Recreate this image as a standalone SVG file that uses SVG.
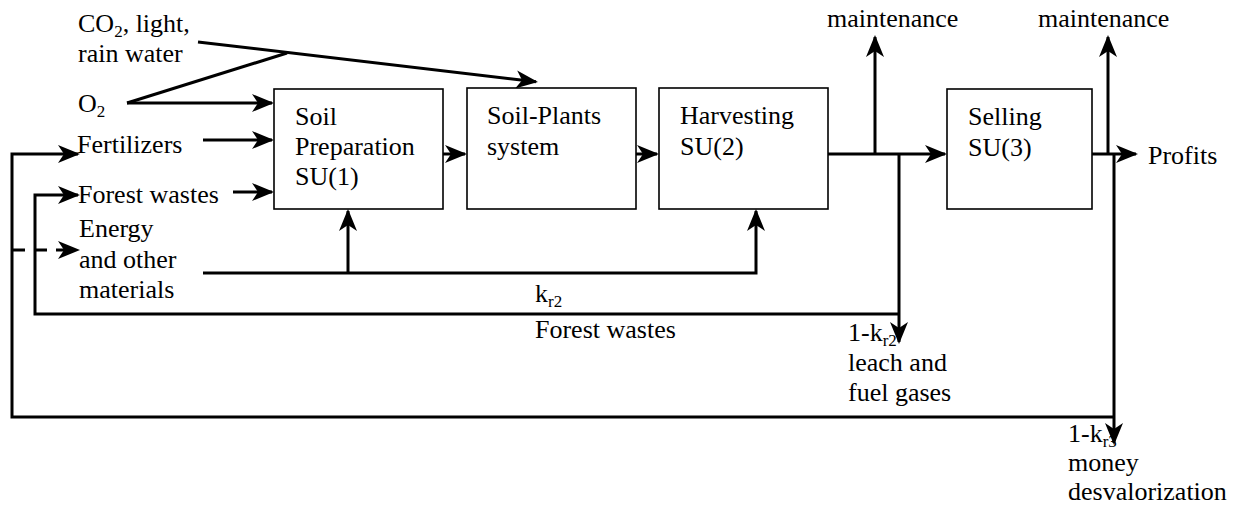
<svg xmlns="http://www.w3.org/2000/svg" width="1244" height="506" viewBox="0 0 1244 506">
<style>
text { font-family: "Liberation Serif", "Times New Roman", Times, "DejaVu Serif", serif; font-size: 26px; fill: #000; }
.sub { font-size: 17px; }
.box { fill: #fff; stroke: #000; stroke-width: 1.6; }
.ln { fill: none; stroke: #000; stroke-width: 3; stroke-linejoin: miter; }
.arr { marker-end: url(#ah); }
.dash { stroke-dasharray: 13 9; }
</style>
<defs>
<marker id="ah" markerUnits="userSpaceOnUse" markerWidth="22" markerHeight="20" viewBox="0 0 22 20" refX="20" refY="10" orient="auto">
<path d="M0,1 L22,10 L0,19 L6,10 Z" fill="#000"/>
</marker>
</defs>
<rect width="1244" height="506" fill="#fff"/>

<g id="connectors">
<path class="ln arr" d="M198,42 L536,81.8"/>
<path class="ln" d="M127,103 L287,53"/>
<path class="ln arr" d="M127,103 H272"/>
<path class="ln arr" d="M203,140 H272"/>
<path class="ln arr" d="M233,192 H272"/>
<path class="ln arr" d="M443,154 H465"/>
<path class="ln arr" d="M636,154 H657"/>
<path class="ln arr" d="M828,154 H945"/>
<path class="ln arr" d="M875,154 V37"/>
<path class="ln arr" d="M1092,154 H1136"/>
<path class="ln arr" d="M1108,154 V37"/>
<path class="ln arr" d="M203,273 H756 V211"/>
<path class="ln arr" d="M348,273 V211"/>
<path class="ln arr" d="M899,154 V342"/>
<path class="ln arr" d="M899,314 H35 V195 H78"/>
<path class="ln arr" d="M1114,154 V443"/>
<path class="ln arr" d="M1114,417 H12 V154 H78"/>
<path class="ln arr dash" d="M12,250 H78"/>
</g>

<g id="su1">
<rect class="box" x="274" y="89" width="169" height="120"/>
<text x="295" y="125">Soil</text>
<text x="295" y="155">Preparation</text>
<text x="295" y="185">SU(1)</text>
</g>
<g id="soil-plants">
<rect class="box" x="467" y="88" width="169" height="121"/>
<text x="487" y="124">Soil-Plants</text>
<text x="487" y="155">system</text>
</g>
<g id="su2">
<rect class="box" x="659" y="88" width="169" height="121"/>
<text x="680" y="124">Harvesting</text>
<text x="680" y="155">SU(2)</text>
</g>
<g id="su3">
<rect class="box" x="947" y="89" width="145" height="120"/>
<text x="968" y="125">Selling</text>
<text x="968" y="156">SU(3)</text>
</g>

<g id="inputs">
<text x="78" y="32">CO<tspan class="sub" dy="5">2</tspan><tspan dy="-5">, light,</tspan></text>
<text x="78" y="62">rain water</text>
<text x="78" y="112">O<tspan class="sub" dy="5">2</tspan></text>
<text x="77" y="153">Fertilizers</text>
<text x="78" y="203">Forest wastes</text>
<text x="79" y="237">Energy</text>
<text x="79" y="268">and other</text>
<text x="79" y="298">materials</text>
</g>
<g id="outputs">
<text x="827" y="27">maintenance</text>
<text x="1038" y="27">maintenance</text>
<text x="1148" y="164">Profits</text>
<text x="535" y="302">k<tspan class="sub" dy="5">r2</tspan></text>
<text x="535" y="338">Forest wastes</text>
<text x="848" y="341">1-k<tspan class="sub" dy="5">r2</tspan></text>
<text x="848" y="371">leach and</text>
<text x="848" y="401">fuel gases</text>
<text x="1068" y="442">1-k<tspan class="sub" dy="5">r3</tspan></text>
<text x="1068" y="471">money</text>
<text x="1068" y="500">desvalorization</text>
</g>
</svg>
